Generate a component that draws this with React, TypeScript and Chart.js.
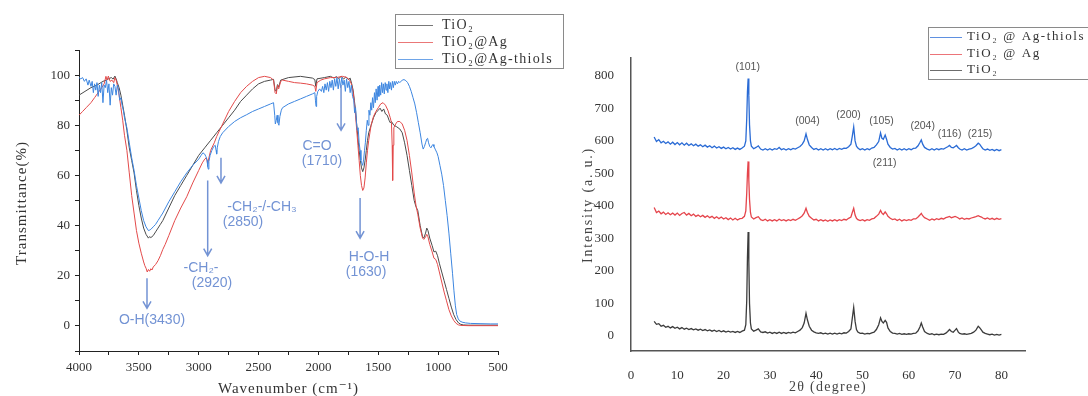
import React, { useEffect, useRef } from 'react';
import { Chart, registerables } from 'chart.js';

Chart.register(...registerables);

// ---------------- FTIR (left) data: [wavenumber cm-1, transmittance %] ----------------
const ftirTiO2: [number, number][] = [[4000,92],[3950,93.5],[3900,95],[3850,96],[3800,97.5],[3770,98],[3750,98.6],[3730,99],[3715,98.4],[3700,99.6],[3690,98.5],[3680,97],[3665,95],[3650,92],[3635,88],[3620,84],[3600,78],[3580,71],[3560,66],[3540,61],[3520,54],[3500,48],[3480,43],[3460,39],[3440,36.5],[3420,35],[3410,35.6],[3400,35.2],[3380,36],[3360,37.5],[3340,39],[3320,40.5],[3300,42],[3250,47],[3200,52],[3150,56],[3100,60],[3050,64],[3000,68],[2950,71],[2900,74],[2850,77],[2800,80],[2750,83],[2700,86],[2650,89.5],[2600,92],[2550,94.5],[2500,96.5],[2450,97.5],[2400,98],[2375,98.3],[2362,94],[2352,93.5],[2342,96.2],[2332,95.3],[2315,98],[2250,99],[2150,99.5],[2050,98.8],[2030,98.2],[2022,95.5],[2012,98.5],[1950,99],[1900,99.5],[1870,98.8],[1850,99.4],[1830,98.6],[1810,99.5],[1790,98.4],[1770,99.3],[1750,98.2],[1735,98.8],[1722,96.5],[1710,94],[1700,90],[1690,86],[1680,80],[1670,75],[1660,70],[1650,66],[1640,63],[1630,61.5],[1620,63],[1610,66],[1600,70],[1590,74],[1580,77],[1560,80],[1540,83],[1520,85],[1500,86],[1485,86.8],[1470,85.5],[1455,86.5],[1440,84.5],[1425,84],[1410,82],[1400,81],[1390,81.5],[1370,80],[1350,79.5],[1320,78.5],[1300,77],[1280,73],[1260,68],[1240,62],[1220,56],[1200,50],[1185,47.5],[1170,46],[1150,40],[1130,35.5],[1120,35],[1105,37],[1095,39],[1085,38],[1070,35],[1050,32],[1035,29.5],[1020,29.8],[1005,28],[990,25],[970,21.5],[950,18],[930,14.5],[910,11],[890,7.5],[870,4.5],[850,2.5],[830,1.2],[810,0.6],[790,0.4],[750,0.3],[700,0.3],[600,0.3],[500,0.3]];

const ftirTiO2Ag: [number, number][] = [[4000,84],[3970,85.5],[3940,87],[3900,89],[3870,91],[3840,93],[3810,95],[3790,96.5],[3775,99.5],[3765,98],[3755,99.6],[3740,97.5],[3725,98],[3710,97],[3700,99],[3690,98],[3680,96],[3665,92],[3650,87],[3635,82],[3620,76],[3600,70],[3580,61],[3560,52],[3540,45],[3520,38],[3500,33],[3480,29],[3460,25.5],[3450,24],[3440,23],[3430,21.5],[3420,22.5],[3410,21.8],[3400,22.8],[3390,22.3],[3380,23.5],[3360,24.5],[3340,26],[3320,28],[3300,30.5],[3280,32.5],[3250,36],[3200,42],[3150,47],[3100,51.5],[3050,57],[3000,62],[2970,65],[2950,66.5],[2935,67],[2925,64.5],[2915,67],[2900,70],[2870,73],[2850,75.5],[2800,80.5],[2750,85.5],[2700,89.5],[2650,93],[2600,95.5],[2550,97.5],[2500,99],[2450,99.5],[2400,99],[2375,98],[2362,93],[2352,92.5],[2342,96],[2332,94.5],[2315,97.5],[2300,98],[2250,97.5],[2200,97],[2150,96.8],[2100,96.5],[2050,96],[2030,95.5],[2022,93.5],[2012,97],[1980,98],[1950,98.5],[1900,99],[1850,99],[1800,99.5],[1760,99],[1740,98],[1725,96.5],[1710,93],[1700,89],[1690,84],[1680,78],[1670,72],[1660,66],[1650,60],[1640,56],[1630,54],[1620,55],[1610,59],[1600,65],[1590,70],[1580,74],[1560,80],[1540,83.5],[1520,85.5],[1500,87],[1480,88.5],[1460,89],[1440,88],[1420,86],[1400,83],[1390,81],[1384,72],[1380,58],[1376,72],[1370,79],[1355,80.5],[1340,81.5],[1320,81.5],[1300,80.5],[1280,78],[1260,74],[1240,68],[1220,61],[1200,53],[1185,48],[1170,44.5],[1150,39],[1130,35],[1120,34.5],[1105,35.5],[1095,36.5],[1085,35.5],[1070,32.5],[1050,29.5],[1035,27],[1020,26.5],[1005,24.5],[990,21.5],[970,17.5],[950,13.5],[930,10],[910,6.5],[890,4],[870,2.2],[850,1],[830,0.4],[810,0.2],[750,0.1],[600,0.1],[500,0.1]];

const ftirTiO2AgThiols: [number, number][] = [[4000,99],[3985,98.5],[3970,99],[3955,97.5],[3940,98.5],[3925,96],[3915,98],[3900,95.5],[3890,97.5],[3880,93],[3870,96.5],[3860,94],[3850,97],[3840,91.5],[3830,96],[3820,93],[3810,97],[3800,89],[3790,96],[3780,95],[3770,98],[3760,93],[3750,96.5],[3740,88],[3730,95],[3720,92],[3710,96.5],[3700,95.5],[3690,92],[3680,96],[3670,94.5],[3660,90],[3650,91],[3640,88],[3630,86],[3620,83],[3600,79],[3580,73],[3560,67],[3540,62],[3520,56],[3500,51],[3480,46],[3460,42],[3440,39.5],[3420,38],[3410,38.2],[3400,38.5],[3380,39.5],[3360,40.5],[3340,42],[3320,43.5],[3300,45],[3250,49.5],[3200,53.5],[3150,57.5],[3100,61],[3050,64],[3000,66.5],[2980,68],[2965,69],[2950,68.5],[2940,67.5],[2930,66],[2925,63.5],[2920,62.5],[2915,65.5],[2905,68],[2890,70],[2875,71.5],[2862,72],[2855,70],[2850,68.5],[2845,71],[2835,73.5],[2820,75.5],[2800,77],[2750,79.5],[2700,81.5],[2650,83],[2600,84.2],[2550,85.5],[2500,86.5],[2450,87.5],[2400,88.5],[2375,89],[2365,84],[2360,80.5],[2352,82],[2345,84],[2338,81],[2330,80],[2322,83.5],[2310,86],[2300,87],[2250,88.5],[2200,89.5],[2150,90.5],[2100,91.5],[2050,92.5],[2030,93],[2025,90],[2020,87.5],[2015,91.5],[2005,93.5],[1990,94.5],[1975,93.5],[1965,95.5],[1955,93],[1945,96.5],[1935,94],[1925,97],[1915,93.5],[1905,97.5],[1895,95],[1885,98],[1875,94],[1865,98.5],[1855,95.5],[1845,99],[1835,94.5],[1825,98.5],[1815,95],[1805,99],[1795,96],[1785,98],[1775,93.5],[1765,98.5],[1755,95],[1745,97.5],[1735,93],[1725,96],[1715,91.5],[1705,90],[1698,85],[1690,87],[1682,81],[1675,78],[1668,79],[1660,73],[1652,70],[1645,66],[1638,65],[1630,64],[1622,66.5],[1615,70],[1608,73],[1600,78],[1592,82],[1585,80],[1578,86],[1570,84],[1562,89],[1555,86],[1548,91],[1540,87],[1532,93],[1525,89],[1518,94.5],[1510,90],[1502,95.5],[1495,91.5],[1488,96],[1480,92],[1472,97],[1465,93],[1458,96.5],[1450,92.5],[1442,97],[1435,94],[1428,96.5],[1420,93],[1412,97.5],[1405,94.5],[1398,97],[1390,94],[1382,97.5],[1374,95],[1366,97.5],[1358,96],[1350,97.5],[1340,96.5],[1330,97.5],[1320,97],[1300,98],[1285,98.2],[1270,97.8],[1255,97],[1240,95.5],[1225,93.5],[1210,91],[1195,88.5],[1180,85],[1165,81],[1150,77],[1135,72.5],[1125,70.5],[1115,71.5],[1105,73],[1095,74.5],[1088,74.8],[1080,73],[1070,71.5],[1060,71],[1050,72],[1042,72.3],[1035,71.5],[1025,70.5],[1010,69],[1000,67.5],[985,64],[970,60.5],[955,56],[940,50],[925,44],[910,37],[895,29],[880,21],[868,14],[856,8],[845,4.5],[832,2.8],[820,2],[800,1.5],[770,1.2],[730,1],[650,0.9],[560,0.8],[500,0.8]];

const ftirSeriesNames = ['TiO₂', 'TiO₂@Ag', 'TiO₂@Ag-thiols'];

const ftirArrows = [
  { wn: 3432, from: 19, to: 7 },
  { wn: 2925, from: 58, to: 28 },
  { wn: 2814, from: 67, to: 57 },
  { wn: 1811, from: 96, to: 78 },
  { wn: 1652, from: 51, to: 35 },
];

const ftirLabels = [
  { text: 'O-H(3430)', wn: 3390, t: 2.4 },
  { text: '-CH₂-', wn: 2981, t: 23.1 },
  { text: '(2920)', wn: 2889, t: 17.1 },
  { text: '-CH₂-/-CH₃', wn: 2471, t: 47.4 },
  { text: '(2850)', wn: 2630, t: 41.4 },
  { text: 'C=O', wn: 2012, t: 71.7 },
  { text: '(1710)', wn: 1970, t: 65.7 },
  { text: 'H-O-H', wn: 1577, t: 27.5 },
  { text: '(1630)', wn: 1602, t: 21.5 },
];

// ---------------- XRD (right) data ----------------
const xrdAngle = [
  5, 5.5, 6, 6.5, 7, 7.5, 8, 8.5, 9, 9.5, 10, 10.5, 11, 11.5, 12, 12.5, 13, 13.5, 14, 14.5,
  15, 15.5, 16, 16.5, 17, 17.5, 18, 18.5, 19, 19.5, 20, 20.5, 21, 21.5, 22, 22.5, 23, 23.5, 24, 24.5,
  24.8, 25.0, 25.15, 25.3, 25.45, 25.6, 25.8,
  26, 26.5, 27, 27.5, 28, 28.5, 29, 29.5, 30, 30.5, 31, 31.5,
  32, 32.5, 33, 33.5, 34, 34.5, 35, 35.5, 36, 36.5, 37, 37.4,
  37.8, 38.1, 38.5,
  39, 39.5, 40, 40.5, 41, 41.5, 42, 42.5, 43,
  43.5, 44, 44.5, 45, 45.5, 46, 46.5, 47, 47.5,
  47.8, 48.1, 48.4, 48.7,
  49, 49.5, 50, 50.5, 51, 51.5, 52, 52.5, 53, 53.5,
  53.9, 54.2, 54.5, 54.9, 55.2, 55.5,
  56, 56.5, 57, 57.5, 58, 58.5, 59, 59.5, 60, 60.5, 61, 61.5, 62, 62.4,
  62.7, 63.0, 63.4,
  64, 64.5, 65, 65.5, 66, 66.5, 67, 67.5, 68, 68.4,
  68.8, 69.2, 69.6, 70.0, 70.3, 70.7,
  71, 71.5, 72, 72.5, 73, 73.5, 74, 74.5,
  75.0, 75.3, 75.7,
  76, 76.5, 77, 77.5, 78, 78.5, 79, 79.5, 80,
];

const xrdTiO2 = [
  45, 36, 38, 30, 33, 27, 30, 25, 29, 24, 27, 22, 26, 21, 24, 20, 23, 19, 22, 18,
  21, 17, 20, 16, 19, 15, 18, 14, 17, 13, 16, 12, 15, 12, 14, 11, 14, 11, 15, 18,
  35, 110, 240, 320, 230, 100, 40,
  22, 15, 18, 22, 13, 11, 13, 9, 12, 8, 11, 8,
  12, 8, 11, 8, 11, 9, 12, 10, 14, 18, 26, 40,
  70, 50, 30,
  18, 13, 10, 8, 10, 7, 9, 6, 9,
  6, 9, 6, 9, 7, 10, 9, 14, 22,
  55, 88, 45, 20,
  12, 8, 9, 6, 8, 7, 10, 12, 20, 35,
  56, 45, 40, 48, 42, 25,
  14, 9, 8, 6, 8, 5, 7, 5, 7, 6, 8, 9, 16, 28,
  40, 28, 14,
  8, 5, 7, 4, 6, 4, 6, 5, 9, 14,
  20, 14, 12, 18, 23, 12,
  8, 6, 7, 5, 7, 8, 12, 18,
  30, 26, 18,
  12, 8, 6, 4, 6, 3, 5, 3, 5,
];

const xrdTiO2Ag = [
  395, 380, 384, 376, 381, 374, 379, 373, 378, 372, 378, 371, 377, 380, 372, 377, 370, 375, 368, 372,
  367, 371, 365, 370, 364, 368, 362, 367, 361, 366, 360, 364, 358, 363, 357, 362, 357, 361, 362, 368,
  385, 440, 500, 537, 480, 420, 380,
  366, 360, 364, 367, 358, 355, 359, 354, 358, 354, 358, 354,
  359, 355, 358, 354, 358, 355, 359, 356, 360, 364, 370, 378,
  393, 380, 368,
  362, 357, 359, 354, 358, 354, 357, 353, 357,
  354, 358, 354, 358, 355, 359, 357, 362, 366,
  380, 393, 372, 362,
  358, 355, 358, 354, 358, 356, 360, 362, 368, 375,
  386, 378, 374, 382, 376, 368,
  362, 358, 360, 355, 359, 354, 358, 355, 358, 356, 360, 360, 366, 372,
  377, 370, 364,
  360, 356, 360, 357, 361, 358, 362, 360, 364, 366,
  368, 364, 366, 368, 366, 363,
  360, 363, 359, 362, 360, 363, 365, 367,
  370, 368, 366,
  363, 360, 363, 359, 362, 358, 362, 359, 361,
];

const xrdTiO2AgThiols = [
  612, 598, 604, 594, 599, 592, 597, 590, 596, 589, 595, 588, 594, 587, 593, 586, 591, 585, 590, 584,
  588, 582, 587, 581, 585, 579, 584, 578, 582, 577, 581, 576, 580, 575, 579, 574, 578, 574, 578, 584,
  600, 670, 750, 792, 740, 650, 600,
  584, 576, 580, 585, 575, 572, 576, 572, 576, 572, 576, 574,
  580, 573, 576, 572, 576, 573, 577, 575, 579, 583, 590, 600,
  622, 605, 588,
  580, 574, 577, 572, 576, 572, 576, 572, 576,
  573, 577, 573, 577, 574, 578, 577, 582, 590,
  615, 643, 600, 584,
  578, 573, 576, 572, 576, 573, 578, 580, 588, 598,
  625, 608, 605, 618, 605, 590,
  580, 575, 577, 572, 576, 572, 576, 572, 576, 573, 577, 578, 585, 595,
  603, 590, 580,
  575, 572, 576, 572, 576, 573, 576, 575, 579, 582,
  586, 580, 579, 583, 586, 579,
  575, 572, 576, 572, 575, 576, 580, 585,
  593, 590, 582,
  576, 572, 575, 571, 574, 570, 574, 570, 573,
];

const xrdSeriesNames = ['TiO₂ @ Ag-thiols', 'TiO₂ @ Ag', 'TiO₂'];

const xrdAngleTicks = [0, 10, 20, 30, 40, 50, 60, 70, 80];
const xrdIntensityTicks = [0, 100, 200, 300, 400, 500, 600, 700, 800];

const xrdPeakLabels = [
  { text: '(101)', angle: 25.2, y: 828 },
  { text: '(004)', angle: 38.1, y: 661 },
  { text: '(200)', angle: 47.0, y: 678 },
  { text: '(105)', angle: 54.1, y: 661 },
  { text: '(204)', angle: 63.0, y: 645 },
  { text: '(116)', angle: 68.8, y: 620 },
  { text: '(215)', angle: 75.4, y: 620 },
  { text: '(211)', angle: 54.8, y: 533 },
];

// ---------------- styling ----------------
const SERIF = '"Liberation Serif", "DejaVu Serif", serif';
const SANS = '"Liberation Sans", Arial, sans-serif';
const ANNOT = '#7393d4';

const FTIR_COLORS = ['#4a4a4a', '#e34a4a', '#3d86e0'];
const XRD_COLORS = ['#2a6bd5', '#e5454c', '#3c3c3c'];

function drawText(ctx: CanvasRenderingContext2D, text: string, x: number, y: number, font: string, color: string, spacing: number, align: CanvasTextAlign, rotate = 0) {
  ctx.save();
  ctx.font = font;
  ctx.fillStyle = color;
  ctx.textBaseline = 'middle';
  ctx.textAlign = align;
  (ctx as any).letterSpacing = spacing + 'px';
  ctx.translate(x, y);
  if (rotate) ctx.rotate(rotate);
  ctx.fillText(text, 0, 0);
  ctx.restore();
}

function drawLegend(ctx: CanvasRenderingContext2D, box: { x: number; y: number; w: number; h: number }, rows: number[], lineX: [number, number], textX: number, names: string[], colors: string[], font: string, spacing: number) {
  ctx.save();
  ctx.strokeStyle = '#8a8a8a';
  ctx.lineWidth = 1;
  ctx.strokeRect(box.x, box.y, box.w, box.h);
  names.forEach((n, i) => {
    ctx.strokeStyle = colors[i];
    ctx.globalAlpha = 0.75;
    ctx.beginPath();
    ctx.moveTo(lineX[0], rows[i] + 0.5);
    ctx.lineTo(lineX[1], rows[i] + 0.5);
    ctx.stroke();
    ctx.globalAlpha = 1;
    drawText(ctx, n, textX, rows[i], font, '#333', spacing, 'left');
  });
  ctx.restore();
}

const ftirOverlay = {
  id: 'ftirOverlay',
  afterDraw(chart: any) {
    const ctx: CanvasRenderingContext2D = chart.ctx;
    const xs = chart.scales.x;
    const ys = chart.scales.y;
    ctx.save();
    ctx.strokeStyle = ANNOT;
    ctx.lineWidth = 1.5;
    ftirArrows.forEach((a) => {
      const x = xs.getPixelForValue(a.wn);
      const y1 = ys.getPixelForValue(a.from);
      const y2 = ys.getPixelForValue(a.to);
      ctx.beginPath();
      ctx.moveTo(x, y1);
      ctx.lineTo(x, y2);
      ctx.moveTo(x - 4, y2 - 7);
      ctx.lineTo(x, y2);
      ctx.lineTo(x + 4, y2 - 7);
      ctx.stroke();
    });
    ctx.restore();
    ftirLabels.forEach((l) => {
      drawText(ctx, l.text, xs.getPixelForValue(l.wn), ys.getPixelForValue(l.t), '14px ' + SANS, ANNOT, 0, 'center');
    });
    drawText(ctx, 'Transmittance(%)', 22, 203, '15px ' + SERIF, '#333', 1, 'center', -Math.PI / 2);
    drawText(ctx, 'Wavenumber (cm⁻¹)', (chart.chartArea.left + chart.chartArea.right) / 2, 389, '15px ' + SERIF, '#333', 1, 'center');
    drawLegend(ctx, { x: 395.5, y: 14.5, w: 168, h: 54 }, [25, 42, 59], [398, 433], 442, ftirSeriesNames, FTIR_COLORS, '14px ' + SERIF, 1.3);
  },
};

const XRD_OFFSET = 575;

const xrdOverlay = {
  id: 'xrdOverlay',
  afterDraw(chart: any) {
    const ctx: CanvasRenderingContext2D = chart.ctx;
    const xs = chart.scales.x;
    const ys = chart.scales.y;
    xrdPeakLabels.forEach((l) => {
      drawText(ctx, l.text, xs.getPixelForValue(l.angle), ys.getPixelForValue(l.y), '10.5px ' + SANS, '#555', 0, 'center');
    });
    drawText(ctx, 'Intensity (a. u.)', 588 - XRD_OFFSET, 205, '14px ' + SERIF, '#444', 1.8, 'center', -Math.PI / 2);
    drawText(ctx, '2θ (degree)', (chart.chartArea.left + chart.chartArea.right) / 2, 387, '14px ' + SERIF, '#444', 1.3, 'center');
    drawLegend(ctx, { x: 928.5 - XRD_OFFSET, y: 27.5, w: 175, h: 52 }, [37, 54, 70], [930 - XRD_OFFSET, 962 - XRD_OFFSET], 967 - XRD_OFFSET, xrdSeriesNames, XRD_COLORS, '13px ' + SERIF, 1.6);
  },
};

function FtirChart() {
  const ref = useRef<HTMLCanvasElement>(null);
  useEffect(() => {
    const series = [ftirTiO2, ftirTiO2Ag, ftirTiO2AgThiols];
    const chart = new Chart(ref.current as HTMLCanvasElement, {
      type: 'line',
      data: {
        datasets: series.map((s, i) => ({
          label: ftirSeriesNames[i],
          data: s.map(([x, y]) => ({ x, y })),
          borderColor: FTIR_COLORS[i],
          borderWidth: 1,
          pointRadius: 0,
          tension: 0,
          fill: false,
          order: 2 - i,
        })),
      },
      options: {
        animation: false,
        responsive: false,
        devicePixelRatio: 1,
        layout: { padding: { left: 0, top: 50, right: 77, bottom: 0 } },
        plugins: { legend: { display: false }, tooltip: { enabled: false }, title: { display: false } },
        scales: {
          x: {
            type: 'linear',
            reverse: true,
            min: 500,
            max: 4000,
            afterFit: (s: any) => { s.height = 45; s.paddingLeft = 0; s.paddingRight = 0; },
            grid: { drawOnChartArea: false, drawTicks: true, tickLength: 4, color: '#222' },
            border: { display: true, color: '#222', width: 1 },
            ticks: {
              stepSize: 250,
              autoSkip: false,
              maxRotation: 0,
              padding: 5,
              color: '#333',
              font: { family: SERIF, size: 13 },
              callback: (v: any) => (Number(v) % 500 === 0 ? String(v) : ''),
            },
          },
          y: {
            type: 'linear',
            min: -10,
            max: 110,
            afterFit: (s: any) => { s.width = 79; s.paddingTop = 0; s.paddingBottom = 0; },
            grid: { drawOnChartArea: false, drawTicks: true, tickLength: 4, color: '#222' },
            border: { display: true, color: '#222', width: 1 },
            ticks: {
              stepSize: 10,
              autoSkip: false,
              padding: 5,
              color: '#333',
              font: { family: SERIF, size: 13 },
              callback: (v: any) => {
                const n = Number(v);
                return n % 20 === 0 && n >= 0 && n <= 100 ? String(n) : '';
              },
            },
          },
        },
      },
      plugins: [ftirOverlay],
    } as any);
    return () => chart.destroy();
  }, []);
  return <canvas ref={ref} width={575} height={396} style={{ position: 'absolute', left: 0, top: 0, width: 575, height: 396 }} />;
}

function XrdChart() {
  const ref = useRef<HTMLCanvasElement>(null);
  useEffect(() => {
    const series = [xrdTiO2AgThiols, xrdTiO2Ag, xrdTiO2];
    const chart = new Chart(ref.current as HTMLCanvasElement, {
      type: 'line',
      data: {
        datasets: series.map((s, i) => ({
          label: xrdSeriesNames[i],
          data: xrdAngle.map((a, k) => ({ x: a, y: s[k] })),
          borderColor: XRD_COLORS[i],
          borderWidth: 1.3,
          pointRadius: 0,
          tension: 0,
          fill: false,
        })),
      },
      options: {
        animation: false,
        responsive: false,
        devicePixelRatio: 1,
        layout: { padding: { left: 0, top: 58, right: 63, bottom: 0 } },
        plugins: { legend: { display: false }, tooltip: { enabled: false }, title: { display: false } },
        scales: {
          x: {
            type: 'linear',
            min: 0,
            max: 85.1,
            afterBuildTicks: (s: any) => { s.ticks = xrdAngleTicks.map((v) => ({ value: v })); },
            afterFit: (s: any) => { s.height = 45; s.paddingLeft = 0; s.paddingRight = 0; },
            grid: { display: false },
            border: { display: true, color: '#555', width: 1.5 },
            ticks: {
              autoSkip: false,
              maxRotation: 0,
              padding: 9,
              color: '#333',
              font: { family: SERIF, size: 13 },
            },
          },
          y: {
            type: 'linear',
            min: -46,
            max: 855,
            afterBuildTicks: (s: any) => { s.ticks = xrdIntensityTicks.map((v) => ({ value: v })); },
            afterFit: (s: any) => { s.width = 56; s.paddingTop = 0; s.paddingBottom = 0; },
            grid: { display: false },
            border: { display: true, color: '#555', width: 1.5 },
            ticks: {
              autoSkip: false,
              padding: 9,
              color: '#333',
              font: { family: SERIF, size: 13 },
            },
          },
        },
      },
      plugins: [xrdOverlay],
    } as any);
    return () => chart.destroy();
  }, []);
  return <canvas ref={ref} width={513} height={396} style={{ position: 'absolute', left: XRD_OFFSET, top: 0, width: 513, height: 396 }} />;
}

export default function App() {
  return (
    <div style={{ position: 'fixed', left: 0, top: 0, width: 1088, height: 396, background: '#fff', overflow: 'hidden' }}>
      <FtirChart />
      <XrdChart />
    </div>
  );
}
